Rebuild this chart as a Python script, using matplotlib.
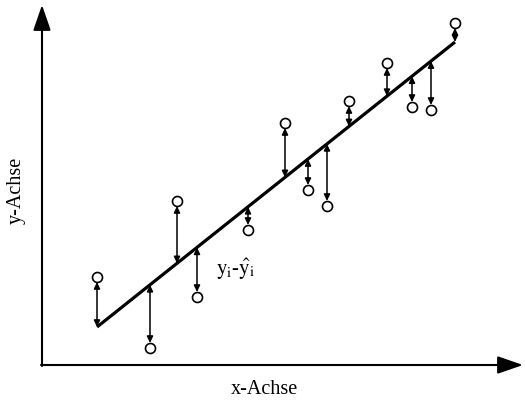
import numpy as np
import matplotlib
matplotlib.use('Agg')
import matplotlib.pyplot as plt

# observed points and the fitted regression line
x_obs = [97, 150, 177, 197, 248, 285, 308, 327, 349, 387, 412, 431, 455]
y_obs = [126, 55, 202, 106, 173, 280, 213, 197, 302, 340, 296, 293, 380]
line_x = [97, 455]
line_y = [76, 361]

x_label = 'x-Achse'
y_label = 'y-Achse'
resid_label = r'$\mathrm{y_i}$-$\hat{\mathrm{y}}_\mathrm{i}$'

plt.rcParams['font.family'] = ['Liberation Serif', 'DejaVu Serif']
plt.rcParams['mathtext.fontset'] = 'stix'

fig = plt.figure(figsize=(5.25, 4.03), dpi=100)
ax = fig.add_axes([0, 0, 1, 1])
ax.set_xlim(0, 525)
ax.set_ylim(0, 403)
ax.axis('off')

# coordinate axes with arrow heads
ax.annotate('', xy=(42, 398), xytext=(42, 37),
            arrowprops=dict(arrowstyle='-|>,head_length=1.3,head_width=0.45',
                            lw=1.5, color='black', shrinkA=0, shrinkB=0,
                            mutation_scale=12))
ax.annotate('', xy=(523, 38), xytext=(41, 38),
            arrowprops=dict(arrowstyle='-|>,head_length=1.3,head_width=0.45',
                            lw=1.5, color='black', shrinkA=0, shrinkB=0,
                            mutation_scale=12))

# regression line
ax.plot(line_x, line_y, color='black', lw=2.3, solid_capstyle='butt')

# residual arrows from the fitted value to each observation
y_hat = np.interp(x_obs, line_x, line_y)
for xi, yi, yh in zip(x_obs, y_obs, y_hat):
    ax.annotate('', xy=(xi, yi), xytext=(xi, yh),
                arrowprops=dict(arrowstyle='<|-|>,head_length=0.38,head_width=0.18',
                                lw=1.1, color='black', shrinkA=0, shrinkB=3.6,
                                mutation_scale=10))

ax.plot(x_obs, y_obs, 'o', ms=7.2, mfc='none', mec='black', mew=1.2)

ax.text(236, 134, resid_label, fontsize=15, ha='center', va='center')
ax.text(264, 13, x_label, fontsize=14.5, ha='center', va='center')
ax.text(16, 213, y_label, fontsize=14.5, ha='center', va='center', rotation=90)

fig.savefig('out.png', dpi=100)
